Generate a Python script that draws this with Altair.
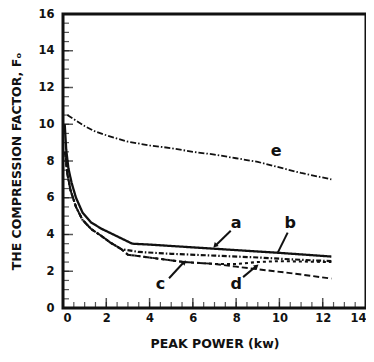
import altair as alt
import pandas as pd

# ---- curve data ----
a_x = [0.08, 0.15, 0.25, 0.4, 0.6, 0.9, 1.3, 1.8, 2.5, 3.2, 4, 6, 8, 10, 12.4]
a_y = [10.0, 8.6, 7.6, 6.8, 6.0, 5.2, 4.65, 4.3, 3.9, 3.5, 3.45, 3.3, 3.15, 3.0, 2.8]

b_x = [0.1, 0.2, 0.35, 0.6, 0.9, 1.3, 1.8, 2.2, 2.7, 3.5, 5, 7, 9, 10.5, 12.4]
b_y = [8.5, 7.3, 6.4, 5.5, 4.8, 4.3, 3.9, 3.55, 3.2, 3.05, 2.95, 2.85, 2.75, 2.65, 2.55]

c_x = [0.1, 0.2, 0.35, 0.6, 0.9, 1.3, 1.8, 2.2, 2.7, 3.0, 4.3, 5.6, 7, 8, 9, 10, 12.4]
c_y = [8.5, 7.3, 6.4, 5.5, 4.8, 4.3, 3.9, 3.55, 3.2, 2.9, 2.7, 2.5, 2.4, 2.4, 2.5, 2.55, 2.5]

d_x = [0.1, 0.2, 0.35, 0.6, 0.9, 1.3, 1.8, 2.2, 2.7, 3.0, 4.3, 5.6, 7, 8, 9.4, 10.5, 12.4]
d_y = [8.5, 7.3, 6.4, 5.5, 4.8, 4.3, 3.9, 3.55, 3.2, 2.9, 2.7, 2.5, 2.4, 2.25, 2.05, 1.9, 1.6]

e_x = [0.2, 0.6, 1, 1.5, 2, 3, 4, 5, 6, 7, 8, 9, 10, 11, 12.4]
e_y = [10.5, 10.2, 9.9, 9.6, 9.4, 9.05, 8.85, 8.7, 8.5, 8.35, 8.15, 7.95, 7.65, 7.35, 7.0]

series_names = ["a", "b", "c", "d", "e"]
series_x = [a_x, b_x, c_x, d_x, e_x]
series_y = [a_y, b_y, c_y, d_y, e_y]

# ---- annotation labels and arrows ----
label_text = ["a", "b", "c", "d", "e"]
label_x = [8.0, 10.5, 4.5, 8.0, 9.85]
label_y = [4.6, 4.6, 1.3, 1.3, 8.55]

arrow_name = ["a", "b", "c", "d"]
arrow_x1 = [7.75, 10.38, 4.9, 8.32]
arrow_y1 = [4.2, 4.1, 1.62, 1.68]
arrow_x2 = [7.05, 9.93, 5.58, 8.92]
arrow_y2 = [3.4, 3.03, 2.49, 2.27]
head_name = ["a", "c", "d"]
head_x = [7.05, 5.58, 8.92]
head_y = [3.42, 2.47, 2.25]
head_angle = [225, 45, 50]

x_ticks = [0, 2, 4, 6, 8, 10, 12, 14]
y_ticks = [0, 2, 4, 6, 8, 10, 12, 14, 16]
x_minor = [v / 2 for v in range(0, 29)]
y_minor = [v / 2 for v in range(0, 33)]

rows = []
for n, xs_, ys_ in zip(series_names, series_x, series_y):
    for i, (xv, yv) in enumerate(zip(xs_, ys_)):
        rows.append({"series": n, "x": xv, "y": yv, "order": i})
df = pd.DataFrame(rows)

FONT = "DejaVu Sans"
W, H = 303, 294

xs = alt.Scale(domain=[0, 14], nice=False)
ys = alt.Scale(domain=[0, 16], nice=False)
XA = alt.Axis(values=x_ticks, title="PEAK POWER (kw)", grid=False,
              ticks=False, domain=False, labelPadding=4,
              labelOverlap=False, titlePadding=14)
YA = alt.Axis(values=y_ticks, title="THE COMPRESSION FACTOR, Fₒ",
              grid=False, ticks=False, domain=False, labelOverlap=False,
              labelPadding=9, titlePadding=14)


def X(f):
    return alt.X(f, scale=xs, axis=XA)


def Y(f):
    return alt.Y(f, scale=ys, axis=YA)


lines = alt.Chart(df).mark_line(color="#111").encode(
    x=X("x:Q"),
    y=Y("y:Q"),
    detail="series:N",
    order="order:Q",
    strokeDash=alt.StrokeDash("series:N", legend=None,
                              scale=alt.Scale(domain=series_names,
                                              range=[[1, 0], [5, 2, 1.5, 2], [3, 3], [6, 3], [6, 2, 1.5, 2]])),
    strokeWidth=alt.StrokeWidth("series:N", legend=None,
                                scale=alt.Scale(domain=series_names,
                                                range=[2.3, 1.8, 1.8, 1.8, 1.8])),
)

labels = alt.Chart(pd.DataFrame({"t": label_text, "x": label_x, "y": label_y})).mark_text(
    font=FONT, fontSize=16, fontWeight="bold", color="#111"
).encode(x=X("x:Q"), y=Y("y:Q"), text="t:N")

arrows = alt.Chart(pd.DataFrame({"n": arrow_name, "x": arrow_x1, "y": arrow_y1,
                                 "x2": arrow_x2, "y2": arrow_y2})).mark_rule(
    color="#111", strokeWidth=2
).encode(x=X("x:Q"), y=Y("y:Q"), x2="x2:Q", y2="y2:Q")

heads = alt.Chart(pd.DataFrame({"n": head_name, "x": head_x, "y": head_y,
                                "ang": head_angle})).mark_point(
    shape="triangle", filled=True, color="#111", size=30, opacity=1
).encode(x=X("x:Q"), y=Y("y:Q"), angle=alt.Angle("ang:Q", scale=None))

# inward tick marks
xt_major = alt.Chart(pd.DataFrame({"x": x_ticks})).mark_tick(
    color="#111", size=10, thickness=1.5
).encode(x=X("x:Q"), y=alt.value(H - 5))
xt_minor = alt.Chart(pd.DataFrame({"x": x_minor})).mark_tick(
    color="#111", size=6, thickness=1.2
).encode(x=X("x:Q"), y=alt.value(H - 3))
yt_major = alt.Chart(pd.DataFrame({"y": y_ticks})).mark_tick(
    color="#111", size=10, thickness=1.5
).encode(y=Y("y:Q"), x=alt.value(5))
yt_minor = alt.Chart(pd.DataFrame({"y": y_minor})).mark_tick(
    color="#111", size=6, thickness=1.2
).encode(y=Y("y:Q"), x=alt.value(3))

# plot frame
frame = alt.Chart(pd.DataFrame({"k": [0]})).mark_rect(
    fill=None, stroke="#111", strokeWidth=3
).encode(x=alt.value(0), x2=alt.value(W), y=alt.value(0), y2=alt.value(H))

chart = alt.layer(lines, xt_minor, xt_major, yt_minor, yt_major, arrows, heads, labels, frame).properties(
    width=W, height=H,
    autosize=alt.AutoSizeParams(type="none"),
    padding={"left": 55, "top": 6, "right": 0, "bottom": 46},
    background="white",
).configure_view(
    stroke=None
).configure_axis(
    labelFont=FONT, labelFontSize=11.5, labelFontWeight="bold", labelColor="#111",
    titleFont=FONT, titleFontSize=12.5, titleFontWeight="bold", titleColor="#111",
)

chart.save("out.html", embed_options={"renderer": "svg", "actions": False})
